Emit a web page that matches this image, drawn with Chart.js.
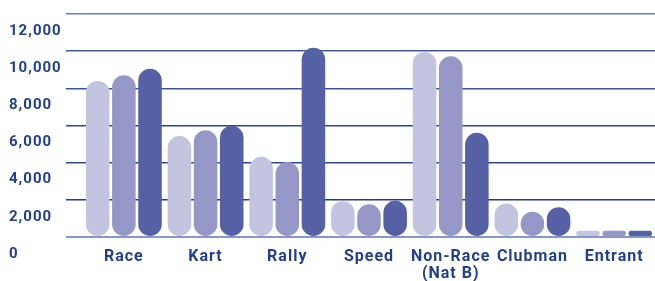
<!DOCTYPE html>
<html lang="en">
<head>
    <meta charset="UTF-8">
    <title>Licences by discipline</title>
    <script src="https://cdn.jsdelivr.net/npm/chart.js@4"></script>
    <style>
        html, body { margin: 0; padding: 0; background: #fff; }
        #wrap { width: 655px; height: 281px; }
    </style>
</head>
<body>
    <div id="wrap"><canvas id="licence-chart"></canvas></div>
    <script>
        const categories = ['Race', 'Kart', 'Rally', 'Speed', ['Non-Race', '(Nat B)'], 'Clubman', 'Entrant'];
        const seriesLight = [8400, 5430, 4320, 1930, 9960, 1800, 330];
        const seriesMid = [8700, 5740, 4030, 1760, 9730, 1360, 330];
        const seriesDark = [9050, 5990, 10180, 1950, 5610, 1600, 330];
        const yTicks = [0, 2000, 4000, 6000, 8000, 10000, 12000];

        const navy = '#213f8e';
        const fontFamily = 'Roboto, "Liberation Sans", sans-serif';

        // grid lines get a slightly different blue each, like the print
        const gridColors = {
            0: '#8697cc', 2000: '#1f3a8a', 4000: '#2c4696', 6000: '#2c4696',
            8000: '#3b53a2', 10000: '#4358a6', 12000: '#6b7fbe'
        };

        // the printed labels are a bit more spaced out than Roboto
        const letterSpacingPlugin = {
            id: 'letterSpacing',
            beforeDraw: chart => { chart.ctx.letterSpacing = '1px'; }
        };

        function barSet(label, data, color) {
            return {
                label: label,
                data: data,
                backgroundColor: color,
                borderWidth: 0,
                borderRadius: 12,
                borderSkipped: false,
                barPercentage: 0.9,
                categoryPercentage: 0.96
            };
        }

        const ctx = document.getElementById('licence-chart').getContext('2d');
        new Chart(ctx, {
            type: 'bar',
            data: {
                labels: categories,
                datasets: [
                    barSet('Series 1', seriesLight, '#c3c5e0'),
                    barSet('Series 2', seriesMid, '#9598c7'),
                    barSet('Series 3', seriesDark, '#5561a4')
                ]
            },
            plugins: [letterSpacingPlugin],
            options: {
                responsive: true,
                maintainAspectRatio: false,
                animation: false,
                layout: { padding: { left: 9, top: 14, right: 0, bottom: 0 } },
                plugins: {
                    legend: { display: false },
                    tooltip: { enabled: false }
                },
                scales: {
                    x: {
                        grid: { display: false, drawTicks: false },
                        border: { display: false },
                        ticks: {
                            color: navy,
                            padding: 11,
                            maxRotation: 0,
                            autoSkip: false,
                            font: { family: fontFamily, size: 16, weight: 'bold', lineHeight: 1.1 }
                        },
                        afterFit: scale => { scale.height = 44; }
                    },
                    y: {
                        min: 0,
                        max: 12000,
                        afterBuildTicks: scale => { scale.ticks = yTicks.map(v => ({ value: v })); },
                        grid: {
                            color: c => gridColors[c.tick.value] || '#3b53a2',
                            lineWidth: c => c.tick.value === 0 ? 2 : 1.5,
                            tickLength: 17
                        },
                        border: { display: false },
                        ticks: {
                            color: navy,
                            crossAlign: 'far',
                            labelOffset: 17,
                            font: { family: fontFamily, size: 15, weight: 'bold' },
                            callback: v => v.toLocaleString('en-US')
                        },
                        afterFit: scale => { scale.width = 74; }
                    }
                }
            }
        });
    </script>
</body>
</html>
